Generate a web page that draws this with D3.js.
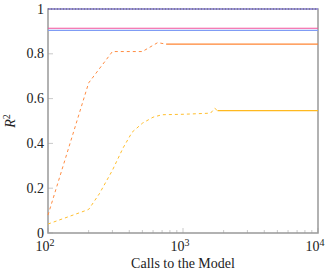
<!DOCTYPE html>
<html><head><meta charset="utf-8">
<script src="https://cdn.jsdelivr.net/npm/d3@7"></script>
<style>body{margin:0;background:#fff}svg{display:block}svg text{font-family:"Times New Roman","Liberation Serif","DejaVu Serif",serif !important;}</style>
</head><body><svg id="c" width="333" height="273"></svg>
<script>
// Data
const orangeDashed = [[100,0.08],[200,0.67],[300,0.81],[500,0.81],[650,0.85],[750,0.843]];
const orangeSolid = [[750,0.843],[10000,0.843]];
const yellowDashed = [[100,0.04],[200,0.105],[240,0.175],[300,0.28],[360,0.38],[420,0.45],[500,0.49],[600,0.517],[700,0.528],[1000,0.53],[1600,0.535],[1720,0.557],[1800,0.546]];
const yellowSolid = [[1800,0.546],[10000,0.546]];
const pinkLine = [[100,0.914],[10000,0.914]];
const blueLine = [[100,0.905],[10000,0.905]];
const topLine = [[100,1.0],[10000,1.0]];
const yTicks = [0,0.2,0.4,0.6,0.8,1];
const xMajor = [100,1000,10000];
const xExp = ["2","3","4"];

const svg = d3.select("#c");
const L=48,R=318,T=9,B=233;
const x = d3.scaleLog().domain([100,10000]).range([L,R]);
const y = d3.scaleLinear().domain([0,1]).range([B,T]);
const line = d3.line().x(d=>x(d[0])).y(d=>y(d[1]));

// minor x ticks
const minor=[];
for (let k=2;k<4;k++) for (let m=2;m<=9;m++) minor.push(m*Math.pow(10,k));
const tg = svg.append("g");
minor.forEach(v=>{
  tg.append("line").attr("x1",x(v)).attr("x2",x(v)).attr("y1",B).attr("y2",B-3).attr("stroke","#bbb").attr("stroke-width",0.8);
});
xMajor.forEach(v=>{
  tg.append("line").attr("x1",x(v)).attr("x2",x(v)).attr("y1",B).attr("y2",B-5).attr("stroke","#bbb").attr("stroke-width",0.8);
});
yTicks.forEach(v=>{
  tg.append("line").attr("x1",L).attr("x2",L+5).attr("y1",y(v)).attr("y2",y(v)).attr("stroke","#bbb").attr("stroke-width",0.8);
});

// frame
svg.append("rect").attr("x",L).attr("y",T).attr("width",R-L).attr("height",B-T).attr("fill","none").attr("stroke","#999").attr("stroke-width",1.5);

// series
svg.append("path").datum(topLine).attr("d",line).attr("fill","none").attr("stroke","#948ae0").attr("stroke-width",1.6);
svg.append("path").datum(topLine).attr("d",line).attr("fill","none").attr("stroke","#666").attr("stroke-width",1).attr("stroke-dasharray","1,2");
svg.append("path").datum(pinkLine).attr("d",line).attr("fill","none").attr("stroke","#f2509a").attr("stroke-width",1.2);
svg.append("path").datum(blueLine).attr("d",line).attr("fill","none").attr("stroke","#7f9cf5").attr("stroke-width",1.2);
svg.append("path").datum(orangeDashed).attr("d",line).attr("fill","none").attr("stroke","#ff8c42").attr("stroke-width",1).attr("stroke-dasharray","3,3");
svg.append("path").datum(orangeSolid).attr("d",line).attr("fill","none").attr("stroke","#ff8533").attr("stroke-width",1.2);
svg.append("path").datum(yellowDashed).attr("d",line).attr("fill","none").attr("stroke","#ffbf2e").attr("stroke-width",1).attr("stroke-dasharray","3,3");
svg.append("path").datum(yellowSolid).attr("d",line).attr("fill","none").attr("stroke","#ffb91f").attr("stroke-width",1.2);

// y tick labels
yTicks.forEach(v=>{
  svg.append("text").attr("x",L-4).attr("y",y(v)+4.5).attr("text-anchor","end").attr("font-size",14).attr("fill","#222").text(v===0?"0":(v===1?"1":d3.format(".1f")(v)));
});
// x tick labels
xMajor.forEach((v,i)=>{
  const t=svg.append("text").attr("x",x(v)-3).attr("y",B+18).attr("text-anchor","middle").attr("font-size",14).attr("fill","#222");
  t.append("tspan").text("10");
  t.append("tspan").attr("dy",-5).attr("font-size",10).text(xExp[i]);
});
svg.append("text").attr("x",(L+R)/2).attr("y",268).attr("text-anchor","middle").attr("font-size",14).attr("fill","#222").text("Calls to the Model");
const yl = svg.append("text").attr("transform","translate(15,"+((T+B)/2)+") rotate(-90)").attr("text-anchor","middle").attr("font-size",14).attr("fill","#222");
yl.append("tspan").attr("font-style","italic").text("R");
yl.append("tspan").attr("dy",-5).attr("font-size",10).text("2");
</script></body></html>
